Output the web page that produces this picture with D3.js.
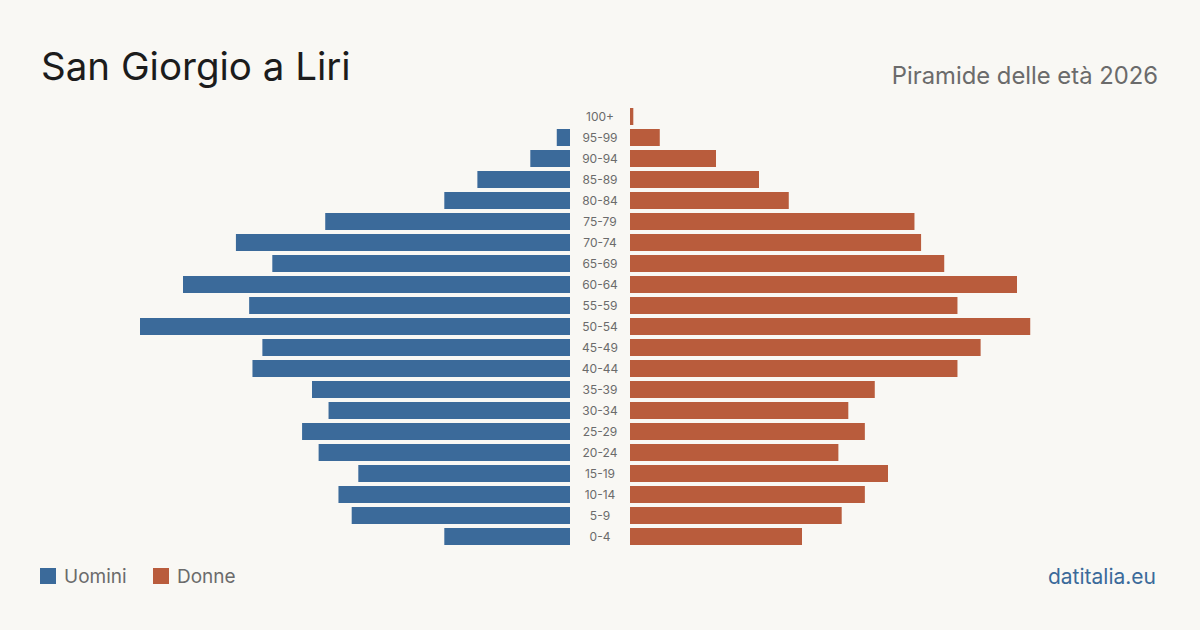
<!DOCTYPE html>
<html>
<head>
<meta charset="utf-8">
<script src="https://cdn.jsdelivr.net/npm/d3@7"></script>
<style>
  html, body { margin: 0; padding: 0; background: #f9f8f4; }
  svg { display: block; font-family: Inter, "Noto Sans", sans-serif; }
</style>
</head>
<body>
<svg id="chart" width="1200" height="630"></svg>
<script>
/* Population pyramid, San Giorgio a Liri 2026 */

const ageGroups = ["0-4","5-9","10-14","15-19","20-24","25-29","30-34","35-39","40-44","45-49",
                   "50-54","55-59","60-64","65-69","70-74","75-79","80-84","85-89","90-94","95-99","100+"];
const men   = [38, 66, 70, 64, 76, 81, 73, 78, 96, 93, 130, 97, 117, 90, 101, 74, 38, 28, 12, 4, 0];
const women = [52, 64, 71, 78, 63, 71, 66, 74, 99, 106, 121, 99, 117, 95, 88, 86, 48, 39, 26, 9, 1];

const legendItems = ["Uomini", "Donne"];
const colors = { men: "#3b6a9a", women: "#b95c3c" };

const W = 1200, H = 630;
const centerLeft = 570, centerRight = 630;

const svg = d3.select("#chart");

svg.append("rect").attr("width", W).attr("height", H).attr("fill", "#f9f8f4");

// Header
svg.append("text")
  .attr("x", 41).attr("y", 80)
  .attr("font-size", 38.5).attr("fill", "#1c1c1c")
  .text("San Giorgio a Liri");

svg.append("text")
  .attr("x", 1158).attr("y", 84)
  .attr("text-anchor", "end")
  .attr("font-size", 23.8).attr("fill", "#6b6b6b")
  .text("Piramide delle età 2026");

// Scales
const y = d3.scaleBand()
  .domain(ageGroups.slice().reverse())
  .range([106, 547])
  .paddingInner(4 / 21)
  .paddingOuter(2 / 21);

const maxVal = d3.max([...men, ...women]);
const x = d3.scaleLinear().domain([0, maxVal]).range([0, 430]);

const rows = ageGroups.map((a, i) => ({ age: a, m: men[i], f: women[i] }));

// Men bars (left)
svg.append("g").selectAll("rect")
  .data(rows.filter(d => d.m > 0))
  .join("rect")
  .attr("x", d => centerLeft - x(d.m))
  .attr("y", d => y(d.age))
  .attr("width", d => x(d.m))
  .attr("height", y.bandwidth())
  .attr("fill", colors.men);

// Women bars (right)
svg.append("g").selectAll("rect")
  .data(rows.filter(d => d.f > 0))
  .join("rect")
  .attr("x", centerRight)
  .attr("y", d => y(d.age))
  .attr("width", d => x(d.f))
  .attr("height", y.bandwidth())
  .attr("fill", colors.women);

// Age labels
svg.append("g").selectAll("text")
  .data(rows)
  .join("text")
  .attr("x", 600)
  .attr("y", d => y(d.age) + y.bandwidth() / 2)
  .attr("dy", "0.35em")
  .attr("text-anchor", "middle")
  .attr("font-size", 12)
  .attr("fill", "#6b6b6b")
  .text(d => d.age);

// Legend
const legend = svg.append("g").attr("transform", "translate(40,568)");
const legendX = [0, 113];
legendItems.forEach((name, i) => {
  const g = legend.append("g").attr("transform", `translate(${legendX[i]},0)`);
  g.append("rect").attr("width", 16).attr("height", 16)
    .attr("fill", i === 0 ? colors.men : colors.women);
  g.append("text").attr("x", 24).attr("y", 8).attr("dy", "0.35em")
    .attr("font-size", 19).attr("fill", "#6b6b6b")
    .text(name);
});

svg.append("text")
  .attr("x", 1156).attr("y", 584)
  .attr("text-anchor", "end")
  .attr("font-size", 21).attr("fill", colors.men)
  .text("datitalia.eu");
</script>
</body>
</html>
